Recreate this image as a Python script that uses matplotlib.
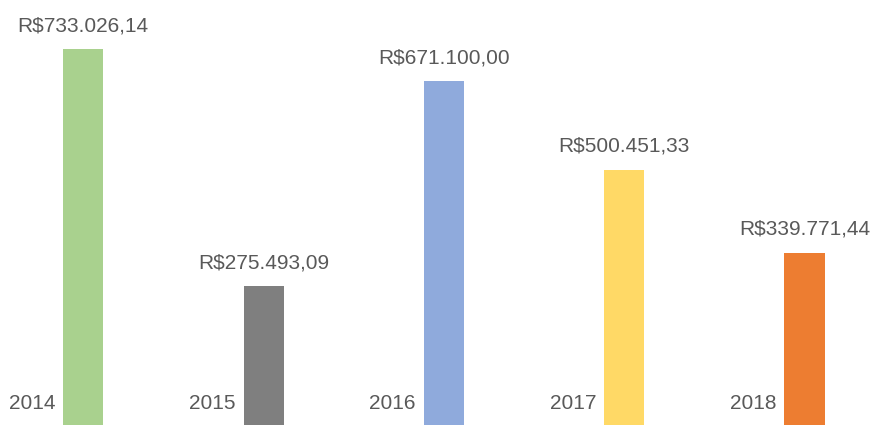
import matplotlib.pyplot as plt

years = ['2014', '2015', '2016', '2017', '2018']
values = [733026.14, 275493.09, 671100.00, 500451.33, 339771.44]
labels = ['R$733.026,14', 'R$275.493,09', 'R$671.100,00', 'R$500.451,33', 'R$339.771,44']
colors = ['#A9D18E', '#7F7F7F', '#8FAADC', '#FFD966', '#ED7D31']

plt.rcParams['font.family'] = ['Liberation Sans', 'DejaVu Sans']

fig = plt.figure(figsize=(8.73, 4.25), dpi=100)
ax = fig.add_axes([0, 0, 1, 1])

x = list(range(len(years)))
w = 0.222
ax.bar(x, values, width=w, color=colors)

for i in x:
    ax.annotate(labels[i], xy=(i, values[i]), xytext=(0, 13), textcoords='offset points',
                ha='center', va='baseline', fontsize=15, color='#595959')
    ax.annotate(years[i], xy=(i - w / 2, 0), xytext=(-5.8, 14.4), textcoords='offset points',
                ha='right', va='baseline', fontsize=15, color='#595959',
                annotation_clip=False)

# baseline sits a few pixels below the image edge
ax.set_xlim(-0.462, 4.380)
ax.set_ylim(7700, 828000)
ax.axis('off')

fig.savefig('out.png', dpi=100)
